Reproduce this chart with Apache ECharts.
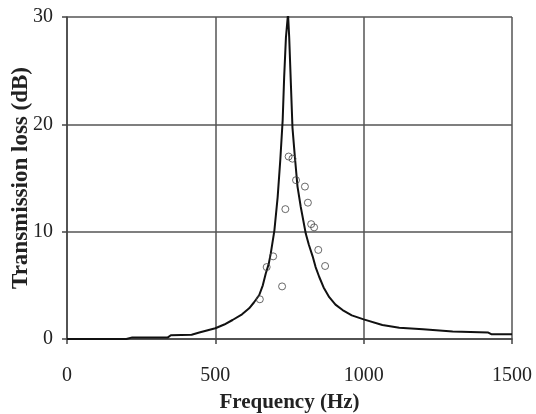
<!DOCTYPE html>
<html>
<head>
<meta charset="utf-8">
<script src="https://cdn.jsdelivr.net/npm/echarts@6/dist/echarts.min.js"></script>
<style>
  html, body { margin: 0; padding: 0; background: #fff; }
  #chart { width: 536px; height: 414px; }
</style>
</head>
<body>
<div id="chart"></div>
<script>
// predicted transmission loss curve (Hz, dB)
var curveFreq = [0, 200, 220, 340, 350, 420, 446, 500, 530, 558, 590, 614, 630, 648, 660, 670, 680, 687, 699, 710, 719, 727, 732, 738, 745,
                 749, 755, 760, 768, 777, 788, 805, 815, 828, 838, 850, 865, 884, 905, 929, 960, 1000, 1063, 1120, 1200, 1300, 1420, 1430, 1500];
var curveTL = [0, 0, 0.15, 0.15, 0.35, 0.4, 0.6, 1.0, 1.35, 1.77, 2.3, 2.86, 3.4, 4.1, 5.0, 6.1, 7.0, 8.0, 10.1, 13.2, 16.7, 20.4, 24.4, 28.1, 30.3,
               28.1, 23.5, 19.7, 17.0, 14.2, 12.3, 9.8, 8.8, 7.7, 6.7, 5.8, 4.8, 3.9, 3.2, 2.7, 2.2, 1.83, 1.3, 1.05, 0.9, 0.7, 0.6, 0.45, 0.45];

// measured points
var measFreq = [650, 673, 695, 725, 736, 747, 760, 772, 802, 812, 823, 833, 847, 870];
var measTL = [3.7, 6.7, 7.7, 4.9, 12.1, 17.0, 16.8, 14.8, 14.2, 12.7, 10.7, 10.4, 8.3, 6.8];

var xTicks = [0, 500, 1000, 1500];
var yTicks = [0, 10, 20, 30];

function pairs(xs, ys) {
  return xs.map(function (x, i) { return [x, ys[i]]; });
}

var chart = echarts.init(document.getElementById('chart'));

var gridLine = { show: true, lineStyle: { color: '#555', width: 1.5 } };
var font = 'Liberation Serif';

chart.setOption({
  animation: false,
  backgroundColor: '#fff',
  grid: { left: 67, right: 24, top: 17, bottom: 75, containLabel: false, outerBoundsMode: 'none' },
  xAxis: {
    type: 'value',
    min: xTicks[0],
    max: xTicks[xTicks.length - 1],
    interval: 500,
    name: 'Frequency (Hz)',
    nameLocation: 'middle',
    nameGap: 53,
    nameMoveOverlap: false,
    nameTextStyle: { fontFamily: font, fontSize: 21, fontWeight: 'bold', color: '#222' },
    axisLine: { show: true, lineStyle: { color: '#444', width: 1.5 } },
    axisTick: { show: true, length: 5, lineStyle: { color: '#444', width: 1.5 } },
    axisLabel: { fontFamily: font, fontSize: 20, color: '#222', margin: 27,
      formatter: function (v) { return String(v); } },
    splitLine: gridLine
  },
  yAxis: {
    type: 'value',
    min: yTicks[0],
    max: yTicks[yTicks.length - 1],
    interval: 10,
    name: 'Transmission loss (dB)',
    nameLocation: 'middle',
    nameGap: 34,
    nameMoveOverlap: false,
    nameTextStyle: { fontFamily: font, fontSize: 23, fontWeight: 'bold', color: '#222' },
    axisLine: { show: true, lineStyle: { color: '#444', width: 1.5 } },
    axisTick: { show: true, length: 5, lineStyle: { color: '#444', width: 1.5 } },
    axisLabel: { fontFamily: font, fontSize: 20, color: '#222', margin: 14 },
    splitLine: gridLine
  },
  series: [
    {
      name: 'Predicted',
      type: 'line',
      data: pairs(curveFreq, curveTL),
      showSymbol: false,
      lineStyle: { color: '#111', width: 2 },
      z: 3
    },
    {
      name: 'Measured',
      type: 'scatter',
      data: pairs(measFreq, measTL),
      symbol: 'circle',
      symbolSize: 7,
      itemStyle: { color: 'rgba(255,255,255,0)', borderColor: '#444', borderWidth: 1 },
      z: 4
    }
  ]
});
</script>
</body>
</html>
